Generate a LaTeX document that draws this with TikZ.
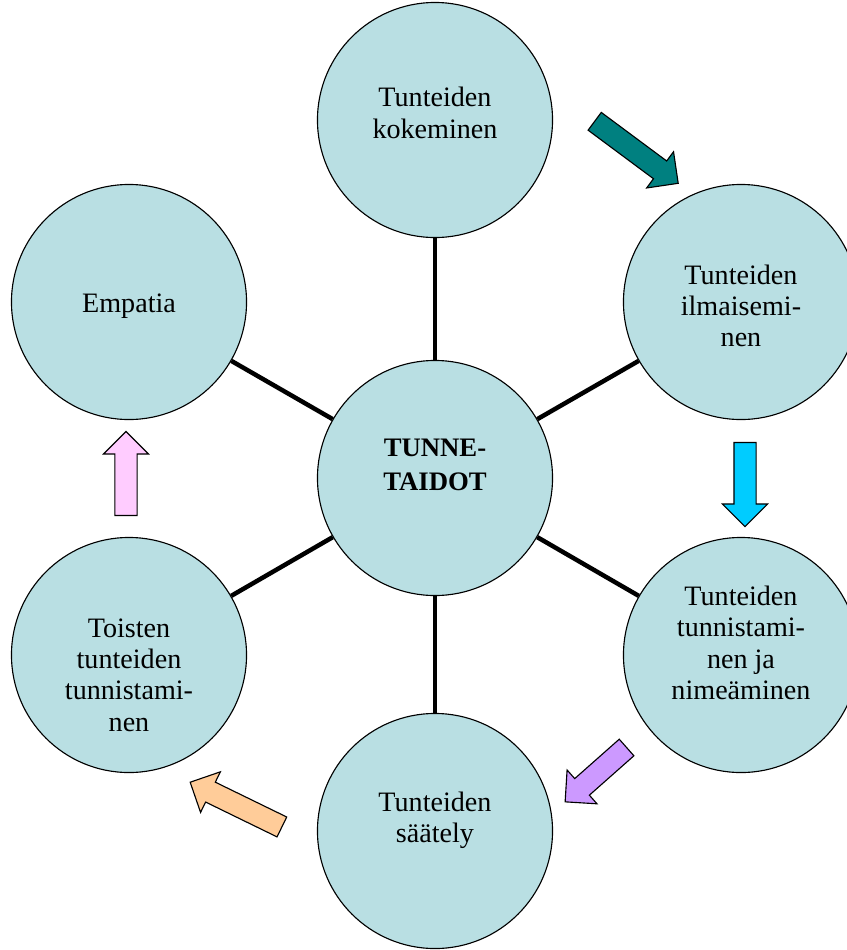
\documentclass[tikz,border=0pt]{standalone}
\usepackage{fontspec}
\setmainfont{Liberation Serif}
\usepackage{xcolor}
\usepackage{tikz}
\usetikzlibrary{shapes,shapes.arrows,positioning}
\definecolor{ballfill}{RGB}{185,223,227}
\definecolor{tealarr}{RGB}{0,128,128}
\definecolor{cyanarr}{RGB}{0,204,255}
\definecolor{lilacarr}{RGB}{204,153,255}
\definecolor{peacharr}{RGB}{255,204,153}
\definecolor{pinkarr}{RGB}{255,204,255}

\begin{document}
\begin{tikzpicture}[x=0.025cm,y=-0.025cm]
				\tikzstyle{ball}=[circle,draw,line width=0.8pt,fill=ballfill,minimum size=5.875cm,inner sep=0pt]
				\tikzstyle{txt}=[align=center,inner sep=0pt,font=\fontsize{20}{22.3}\selectfont]
				\tikzstyle{spoke}=[line width=3.2pt]
				\tikzstyle{blk}=[single arrow,draw,line width=0.8pt,inner sep=0.2625cm,single arrow head extend=0.2875cm]
				\useasboundingbox (0,0) rectangle (847,950);
				% circles
				\node[ball] (mid) at (435,478) {};
				\node[ball] (kok) at (435,120) {};
				\node[ball] (ilm) at (741,302) {};
				\node[ball] (tun) at (741,655) {};
				\node[ball] (saa) at (435,831) {};
				\node[ball] (toi) at (129,655) {};
				\node[ball] (emp) at (129,302) {};
				% texts
				\node[txt,font=\fontsize{19}{24}\selectfont\bfseries] (mid-t) at (435,465) {TUNNE-\\TAIDOT};
				\node[txt] (kok-t) at (435,113) {Tunteiden\\kokeminen};
				\node[txt] (ilm-t) at (741,306) {Tunteiden\\ilmaisemi-\\nen};
				\node[txt] (tun-t) at (741,643) {Tunteiden\\tunnistami-\\nen ja\\nimeäminen};
				\node[txt] (saa-t) at (435,820) {Tunteiden\\säätely};
				\node[txt] (toi-t) at (129,675) {Toisten\\tunteiden\\tunnistami-\\nen};
				\node[txt] (emp-t) at (129,306) {Empatia};
				% spokes
				\draw[spoke] (mid) -- (kok);
				\draw[spoke] (mid) -- (ilm);
				\draw[spoke] (mid) -- (tun);
				\draw[spoke] (mid) -- (saa);
				\draw[spoke] (mid) -- (toi);
				\draw[spoke] (mid) -- (emp);
				% block arrows
				\node[blk,fill=tealarr,minimum height=2.6cm,rotate=-36.6] (a1) at (632,149) {};
				\node[blk,fill=cyanarr,minimum height=2.1cm,rotate=-90] (a2) at (745,479) {};
				\node[blk,fill=lilacarr,minimum height=2.05cm,rotate=221.5] (a3) at (600,771) {};
				\node[blk,fill=peacharr,minimum height=2.55cm,rotate=154] (a4) at (241,807) {};
				\node[blk,fill=pinkarr,minimum height=2.1cm,rotate=90] (a5) at (126,479) {};
\end{tikzpicture}
\end{document}
